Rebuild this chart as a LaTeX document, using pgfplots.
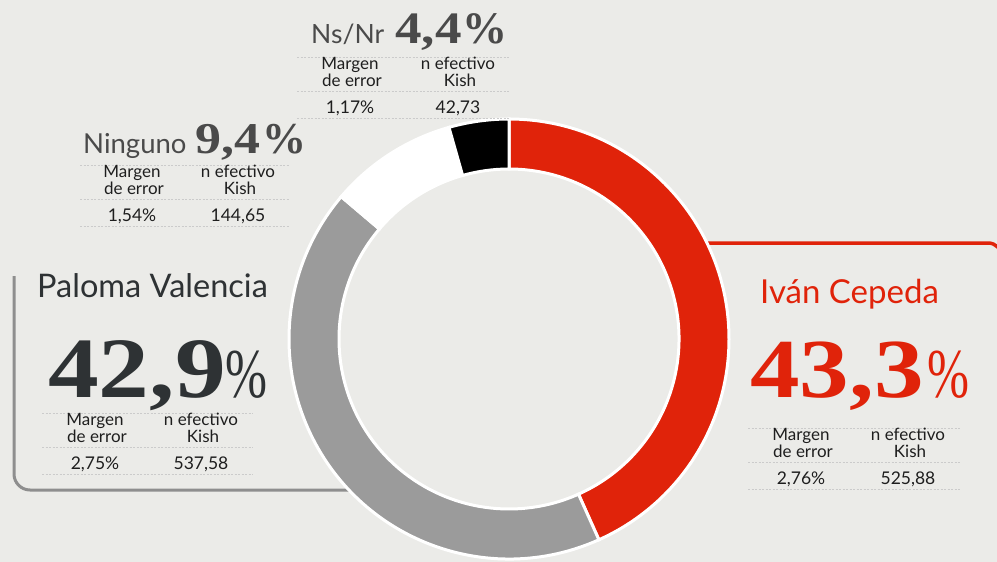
\documentclass[border=0pt]{standalone}
\usepackage{pgfplots}
\pgfplotsset{compat=1.18}
\usepackage{fontspec}
\setmainfont{Lato}
\newfontfamily\numfont[FakeStretch=1.18]{Liberation Serif}
\newfontfamily\pctfont{Liberation Serif}
\definecolor{bgc}{HTML}{EBEBE8}
\definecolor{cep}{HTML}{E0230A}
\definecolor{val}{HTML}{9B9B9B}
\definecolor{txt}{HTML}{2E3234}
\definecolor{gtx}{HTML}{4A4A4A}
\definecolor{lbl}{HTML}{1E1E1E}
\definecolor{dotc}{HTML}{CBCBCB}
\definecolor{framec}{HTML}{8E8E8E}
\newcommand\fs[1]{\fontsize{#1}{#1}\selectfont}
\def\acc{90}
\newcommand\seg[2]{%
  \pgfmathsetmacro\sA{\acc}%
  \pgfmathsetmacro\sB{\acc-3.6*#1}%
  \edef\temp{\noexpand\fill[#2, draw=white, line width=3pt] ([shift={(\sA:220pt)}]axis cs:509,339) arc[start angle=\sA, end angle=\sB, radius=220pt] -- ([shift={(\sB:170pt)}]axis cs:509,339) arc[start angle=\sB, end angle=\sA, radius=170pt] -- cycle;}%
  \temp
  \global\let\acc\sB}
% #1 margin col centre, #2 kish col centre, #3 y of first dotted line, #4 x from, #5 x to, #6 margin, #7 kish
\newcommand\stats[8]{%
  \draw[dotc, line width=0.8pt, dash pattern=on 2pt off 1.5pt] (axis cs:#4,#3) -- (axis cs:#5,#3);
  \draw[dotc, line width=0.8pt, dash pattern=on 2pt off 1.5pt] (axis cs:#4,#3+34) -- (axis cs:#5,#3+34);
  \draw[dotc, line width=0.8pt, dash pattern=on 2pt off 1.5pt] (axis cs:#4,#3+61) -- (axis cs:#5,#3+61);
  \node[anchor=base, inner sep=0, text=lbl, font=\fs{17}] at (axis cs:#1,#3+12.5) {Margen};
  \node[anchor=base, inner sep=0, text=lbl, font=\fs{17}] at (axis cs:#1+2,#3+29) {de error};
  \node[anchor=base, inner sep=0, text=lbl, font=\fs{17}] at (axis cs:#2,#3+12.5) {n efectivo};
  \node[anchor=base, inner sep=0, text=lbl, font=\fs{17}] at (axis cs:#2+2,#3+29) {Kish};
  \node[anchor=base, inner sep=0, text=lbl, font=\fs{17.5}] at (axis cs:#1,#3+56) {#6};
  \node[anchor=base, inner sep=0, text=lbl, font=\fs{17.5}] at (axis cs:#2,#3+56) {#7};
}
\begin{document}
\begin{tikzpicture}
\begin{axis}[scale only axis, width=997pt, height=562pt,
  xmin=0, xmax=997, ymin=0, ymax=562, y dir=reverse, hide axis, clip=false]
\fill[bgc] (axis cs:0,0) rectangle (axis cs:997,562);
% frames
\draw[cep, line width=3.5pt, rounded corners=14pt] (axis cs:690,243) -- (axis cs:1002,243) -- (axis cs:1002,320);
\draw[framec, line width=3pt, rounded corners=16pt] (axis cs:14,276) -- (axis cs:14,490) -- (axis cs:360,490);
% donut: shares in percent, clockwise from the top
\seg{43.3}{cep}
\seg{42.9}{val}
\seg{9.4}{white}
\seg{4.4}{black}
% Ns/Nr
\node[anchor=base west, inner sep=0, text=gtx, font=\fs{26.5}] at (axis cs:311,43) {Ns/Nr};
\node[anchor=base west, inner sep=0, text=gtx] at (axis cs:395,43) {\numfont\bfseries\fs{45}4,4};
\node[anchor=base east, inner sep=0, text=gtx] at (axis cs:508,43) {\pctfont\bfseries\fs{45}\%};
\stats{350}{458}{57}{297}{510}{1,17\%}{42,73}{}
% Ninguno
\node[anchor=base west, inner sep=0, text=gtx, font=\fs{27.5}] at (axis cs:83,153) {Ninguno};
\node[anchor=base west, inner sep=0, text=gtx] at (axis cs:195,153) {\numfont\bfseries\fs{44}9,4};
\node[anchor=base east, inner sep=0, text=gtx] at (axis cs:307,153) {\pctfont\bfseries\fs{44}\%};
\stats{132}{238}{165}{80}{290}{1,54\%}{144,65}{}
% Paloma Valencia
\node[anchor=base west, inner sep=0, text=txt, font=\fs{32.5}] at (axis cs:37,297) {Paloma Valencia};
\node[anchor=base west, inner sep=0, text=txt] at (axis cs:48,397) {\numfont\bfseries\fs{86}42,9};
\node[anchor=base east, inner sep=0, text=txt] at (axis cs:268,397) {\scalebox{0.72}[1]{\pctfont\fs{70}\%}};
\stats{95}{201}{413}{42}{253}{2,75\%}{537,58}{}
% Ivan Cepeda
\node[anchor=base west, inner sep=0, text=cep, font=\fs{33}] at (axis cs:760,303) {Iván Cepeda};
\node[anchor=base west, inner sep=0, text=cep] at (axis cs:750,397) {\numfont\bfseries\fs{84}43,3};
\node[anchor=base east, inner sep=0, text=cep] at (axis cs:970,397) {\scalebox{0.72}[1]{\pctfont\fs{70}\%}};
\stats{801}{908}{428}{748}{960}{2,76\%}{525,88}{}
\end{axis}
\pgfresetboundingbox
\path[use as bounding box] (current axis.south west) rectangle (current axis.north east);
\end{tikzpicture}
\end{document}
